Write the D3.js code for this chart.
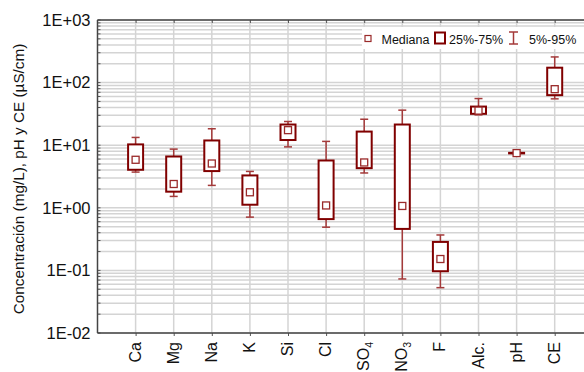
<!DOCTYPE html>
<html><head><meta charset="utf-8">
<script src="https://cdn.jsdelivr.net/npm/d3@7"></script>
<style>body{margin:0;background:#fff}svg{display:block;font-family:"Liberation Sans",Arial,sans-serif}</style>
</head><body><svg id="c" width="584" height="372"></svg>
<script>
const categories = ["Ca","Mg","Na","K","Si","Cl","SO4","NO3","F","Alc.","pH","CE"];
const p5     = [3.72, 1.52, 2.28, 0.71, 9.4, 0.49, 3.6, 0.073, 0.053, 30.5, 7.2, 55];
const q25    = [4.05, 1.81, 3.86, 1.12, 12.1, 0.66, 4.3, 0.46, 0.097, 31.7, 7.4, 63];
const median = [5.85, 2.4, 5.1, 1.77, 17.4, 1.09, 5.3, 1.07, 0.152, 35.7, 7.48, 78.5];
const q75    = [10.3, 6.6, 11.9, 3.29, 21.4, 5.7, 16.5, 21.4, 0.285, 41.4, 7.55, 173];
const p95    = [13.3, 8.66, 18.3, 3.81, 23.9, 11.5, 26, 36.3, 0.368, 55.6, 7.75, 257];
const yTickValues = [0.01, 0.1, 1, 10, 100, 1000];
const yTickLabels = ["1E-02","1E-01","1E+00","1E+01","1E+02","1E+03"];
const yTitle = "Concentración (mg/L), pH y CE (µS/cm)";
const legendLabels = ["Mediana","25%-75%","5%-95%"];

const svg = d3.select("#c");
const L = 97.5, T = 20, B = 333, step = 38.1;
const R = L + 13*step;
const x = d3.scalePoint().domain(categories).range([L, R]).padding(1);
const y = d3.scaleLog().domain([0.01, 1000]).range([B, T]);
const dark = "#800000", whisk = "#a43a3a";

// grid
const minor = [];
for (let e = -2; e < 3; e++) for (let m = 1; m <= 9; m++) minor.push(m*Math.pow(10,e));
minor.push(1000);
svg.append("g").selectAll("line").data(minor).join("line")
  .attr("x1", L).attr("x2", R).attr("y1", d=>y(d)).attr("y2", d=>y(d))
  .attr("stroke", "#d4d4d4").attr("stroke-width", 1.5);
svg.append("g").selectAll("line").data(categories).join("line")
  .attr("x1", d=>x(d)).attr("x2", d=>x(d)).attr("y1", T).attr("y2", B)
  .attr("stroke", "#d4d4d4").attr("stroke-width", 1.5);

// axes
const yAxis = d3.axisLeft(y).tickValues(yTickValues)
  .tickFormat((d,i)=>yTickLabels[i]).tickSize(0).tickPadding(7);
const gy = svg.append("g").attr("transform", `translate(${L},0)`).call(yAxis);
gy.select(".domain").remove();
gy.selectAll("text").attr("font-size", 16.5).attr("fill", "#111");
svg.append("g").selectAll("line").data(minor).join("line")
  .attr("x1", L).attr("x2", L+3).attr("y1", d=>y(d)).attr("y2", d=>y(d))
  .attr("stroke", "#555").attr("stroke-width", 1);

const xAxis = d3.axisBottom(x).tickSize(3).tickFormat("");
const gx = svg.append("g").attr("transform", `translate(0,${B})`).call(xAxis);
gx.select(".domain").remove();
gx.selectAll("line").attr("stroke", "#555");
const gt = svg.append("g").attr("transform", `translate(0,${T})`).call(d3.axisBottom(x).tickSize(3).tickFormat(""));
gt.select(".domain").remove();
gt.selectAll("line").attr("stroke", "#555");

svg.append("line").attr("x1", L).attr("x2", R).attr("y1", T).attr("y2", T).attr("stroke", "#444").attr("stroke-width", 1.5);
svg.append("line").attr("x1", L).attr("x2", R).attr("y1", B).attr("y2", B).attr("stroke", "#444").attr("stroke-width", 1.5);
svg.append("line").attr("x1", L).attr("x2", L).attr("y1", T).attr("y2", B).attr("stroke", "#444").attr("stroke-width", 1.5);

// x labels
const xl = svg.append("g").selectAll("text").data(categories).join("text")
  .attr("transform", d=>`translate(${x(d)+5},342) rotate(-90)`)
  .attr("text-anchor", "end").attr("font-size", 16).attr("fill", "#111");
xl.each(function(d){
  const t = d3.select(this);
  const m = d.match(/^([A-Z]+)(\d)$/);
  if (m && (d === "SO4" || d === "NO3")) {
    t.append("tspan").text(m[1]);
    t.append("tspan").text(m[2]).attr("font-size", 10.5).attr("dy", 4);
  } else t.text(d);
});

// y title
svg.append("text").attr("transform", `translate(24,179) rotate(-90)`)
  .attr("text-anchor", "middle").attr("font-size", 15.3).attr("fill", "#111").text(yTitle);

// boxes
const idx = d3.range(categories.length);
const bw = 15, cw = 8;
const g = svg.append("g");
g.selectAll(".wu").data(idx).join("line")
  .attr("x1", i=>x(categories[i])).attr("x2", i=>x(categories[i]))
  .attr("y1", i=>y(p95[i])).attr("y2", i=>y(p5[i]))
  .attr("stroke", whisk).attr("stroke-width", 1.5);
g.selectAll(".ct").data(idx).join("line")
  .attr("x1", i=>x(categories[i])-cw/2).attr("x2", i=>x(categories[i])+cw/2)
  .attr("y1", i=>y(p95[i])).attr("y2", i=>y(p95[i]))
  .attr("stroke", whisk).attr("stroke-width", 1.5);
g.selectAll(".cb").data(idx).join("line")
  .attr("x1", i=>x(categories[i])-cw/2).attr("x2", i=>x(categories[i])+cw/2)
  .attr("y1", i=>y(p5[i])).attr("y2", i=>y(p5[i]))
  .attr("stroke", whisk).attr("stroke-width", 1.5);
g.selectAll("rect.box").data(idx).join("rect").attr("class","box")
  .attr("x", i=>x(categories[i])-bw/2).attr("width", bw)
  .attr("y", i=>y(q75[i])).attr("height", i=>Math.max(0.5, y(q25[i])-y(q75[i])))
  .attr("fill", "#fff").attr("stroke", dark).attr("stroke-width", 2);
g.selectAll("rect.med").data(idx).join("rect").attr("class","med")
  .attr("x", i=>x(categories[i])-3.5).attr("y", i=>y(median[i])-3.5)
  .attr("width", 7).attr("height", 7)
  .attr("fill", "#fff").attr("stroke", "#9a2a2a").attr("stroke-width", 1.3);

// legend
const lg = svg.append("g");
lg.append("rect").attr("x", 362).attr("y", 27).attr("width", 230).attr("height", 22).attr("fill", "#fff");
lg.append("rect").attr("x", 365).attr("y", 35.5).attr("width", 6).attr("height", 6)
  .attr("fill", "#fff").attr("stroke", "#9a2a2a").attr("stroke-width", 1.2);
lg.append("text").attr("x", 381.5).attr("y", 43.5).attr("font-size", 12.5).attr("fill", "#111").text(legendLabels[0]);
lg.append("rect").attr("x", 435).attr("y", 32.5).attr("width", 10).attr("height", 11)
  .attr("fill", "#fff").attr("stroke", dark).attr("stroke-width", 2);
lg.append("text").attr("x", 449).attr("y", 43.5).attr("font-size", 12.5).attr("fill", "#111").text(legendLabels[1]);
lg.append("line").attr("x1", 513.5).attr("x2", 513.5).attr("y1", 32).attr("y2", 44).attr("stroke", whisk).attr("stroke-width", 1.5);
lg.append("line").attr("x1", 509).attr("x2", 518).attr("y1", 32).attr("y2", 32).attr("stroke", whisk).attr("stroke-width", 1.5);
lg.append("line").attr("x1", 509).attr("x2", 518).attr("y1", 44).attr("y2", 44).attr("stroke", whisk).attr("stroke-width", 1.5);
lg.append("text").attr("x", 529).attr("y", 43.5).attr("font-size", 12.5).attr("fill", "#111").text(legendLabels[2]);
</script></body></html>
